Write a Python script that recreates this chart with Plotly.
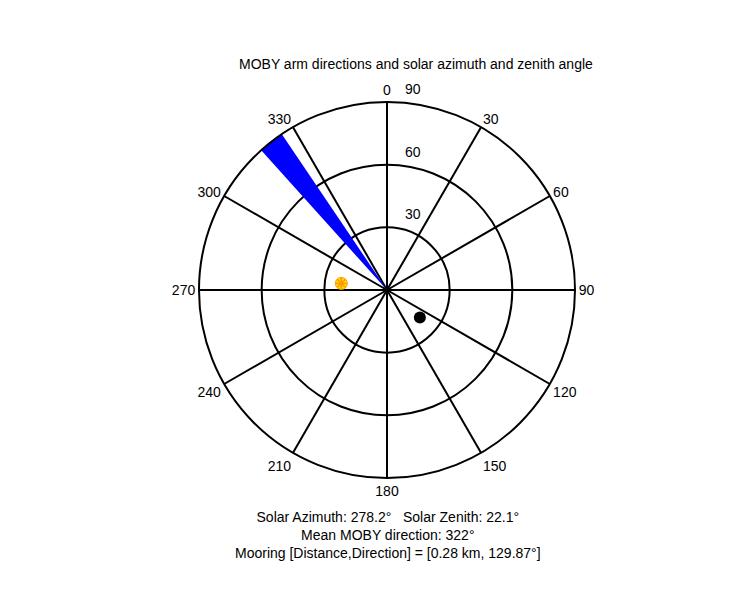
import plotly.graph_objects as go

moby_dir = [322]
moby_width = [8]
moby_r = [90]
sun_az = [278.2]
sun_zen = [22.1]
moor_dir = [129.87]
moor_r = [20.5]
ang_ticks = list(range(0, 360, 30))
rad_ticks = [30, 60, 90]

fig = go.Figure()
fig.add_trace(go.Barpolar(r=moby_r, theta=moby_dir, width=moby_width, base=0,
                          marker=dict(color="#0000ff", line=dict(width=0)), opacity=1))
fig.add_trace(go.Scatterpolar(r=sun_zen, theta=sun_az, mode="markers",
                              marker=dict(symbol="circle", size=12, color="#ffdd00",
                                          line=dict(color="#ff9900", width=1))))
fig.add_trace(go.Scatterpolar(r=sun_zen, theta=sun_az, mode="markers",
                              marker=dict(symbol="asterisk-open", size=9, color="#ff9900",
                                          line=dict(color="#ff9900", width=1.5))))
fig.add_trace(go.Scatterpolar(r=moor_r, theta=moor_dir, mode="markers",
                              marker=dict(symbol="circle", size=12, color="black")))

font = dict(family="Liberation Sans, Arial", size=14, color="black")

# radial tick labels: just right of the 0° spoke, above each circle
cx, cy, R = 388, 289, 188
rad_ann = [dict(text=str(t), x=(cx + 17) / 750, y=1 - (cy - t / 90 * R - 20) / 600,
                xref="paper", yref="paper", showarrow=False, font=font,
                xanchor="center", yanchor="middle")
           for t in rad_ticks]

fig.update_layout(
    width=750, height=600, showlegend=False, paper_bgcolor="white",
    margin=dict(l=0, r=0, t=0, b=0, autoexpand=False), font=font,
    polar=dict(
        domain=dict(x=[191/750, 567/750], y=[1-470/600, 1-94/600]),
        bgcolor="white",
        angularaxis=dict(rotation=90, direction="clockwise", tickvals=ang_ticks,
                         ticktext=[str(t) for t in ang_ticks], showgrid=True,
                         gridcolor="black", gridwidth=1.5, linecolor="black", linewidth=2,
                         ticks="", tickfont=font),
        radialaxis=dict(range=[0, 90], tickvals=rad_ticks, showticklabels=False,
                        angle=90, showline=False, gridcolor="black", gridwidth=2, ticks=""),
    ),
    annotations=rad_ann + [
        dict(text="MOBY arm directions and solar azimuth and zenith angle", x=408/750, y=1-56/600,
             xref="paper", yref="paper", showarrow=False, font=font, yanchor="middle"),
        dict(text="Solar Azimuth: 278.2°   Solar Zenith: 22.1°<br>Mean MOBY direction: 322°<br>"
                  "Mooring [Distance,Direction] = [0.28 km, 129.87°]",
             x=380/750, y=1-499/600, xref="paper", yref="paper", showarrow=False, font=font,
             yanchor="top"),
    ],
)
fig.write_html("out.html")
